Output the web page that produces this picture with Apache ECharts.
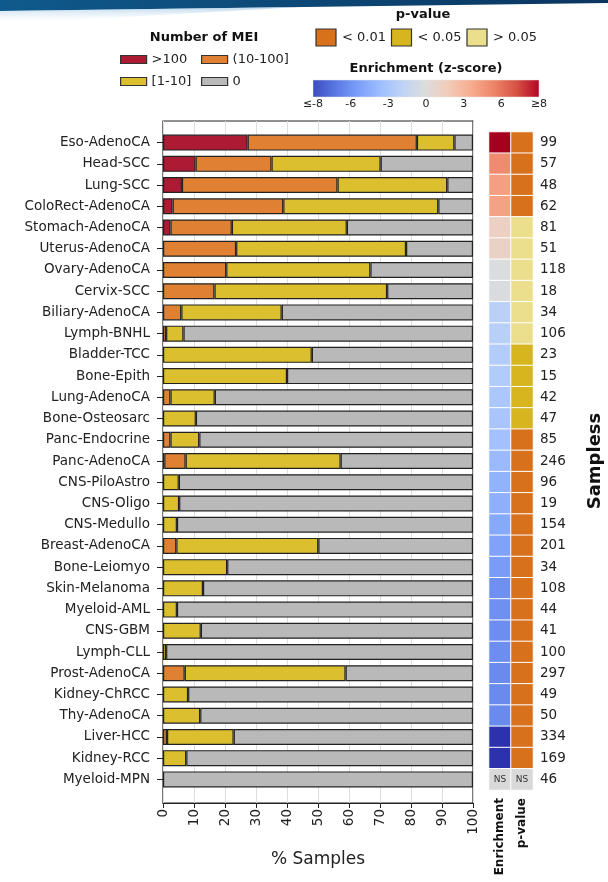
<!DOCTYPE html>
<html>
<head>
<meta charset="utf-8">
<script src="https://cdn.jsdelivr.net/npm/echarts@6/dist/echarts.min.js"></script>
<style>
  html, body { margin: 0; padding: 0; background: #fff; }
  #chart { width: 608px; height: 882px; }
</style>
</head>
<body>
<div id="chart"></div>
<script>
// 肿瘤类型
const categories = [
  'Eso-AdenoCA', 'Head-SCC', 'Lung-SCC', 'ColoRect-AdenoCA', 'Stomach-AdenoCA',
  'Uterus-AdenoCA', 'Ovary-AdenoCA', 'Cervix-SCC', 'Biliary-AdenoCA', 'Lymph-BNHL',
  'Bladder-TCC', 'Bone-Epith', 'Lung-AdenoCA', 'Bone-Osteosarc', 'Panc-Endocrine',
  'Panc-AdenoCA', 'CNS-PiloAstro', 'CNS-Oligo', 'CNS-Medullo', 'Breast-AdenoCA',
  'Bone-Leiomyo', 'Skin-Melanoma', 'Myeloid-AML', 'CNS-GBM', 'Lymph-CLL',
  'Prost-AdenoCA', 'Kidney-ChRCC', 'Thy-AdenoCA', 'Liver-HCC', 'Kidney-RCC',
  'Myeloid-MPN'
];

// % samples per MEI bin (>100, (10-100], [1-10]); the rest is 0
const over100 = [27.3, 10.5, 6.1, 3.1, 2.4, 0, 0, 0, 0, 0, 0, 0, 0, 0, 0, 0.4, 0, 0, 0, 0, 0, 0, 0, 0, 0, 0, 0, 0, 0, 0, 0];
const from10to100 = [54.6, 24.5, 50.2, 35.7, 19.8, 23.6, 20.4, 16.6, 5.9, 1.0, 0, 0, 2.4, 0, 2.4, 6.9, 0, 0, 0, 4.3, 0, 0, 0, 0, 0, 7.0, 0, 0, 1.3, 0, 0];
const from1to10 = [12.1, 35.2, 35.4, 50.0, 37.1, 54.8, 46.5, 55.7, 32.4, 5.6, 48.0, 40.0, 14.3, 10.6, 9.3, 50.0, 5.1, 5.2, 4.5, 45.8, 20.7, 12.9, 4.5, 12.2, 1.0, 51.9, 8.1, 12.0, 21.5, 7.5, 0];
const zeroMei = categories.map((_, i) => +(100 - over100[i] - from10to100[i] - from1to10[i]).toFixed(1));

// enrichment z-score (±9 = beyond the ≤-8 / ≥8 ends), p-value class 0:<0.01 1:<0.05 2:>0.05
// Myeloid-MPN is NS
const zScores = [9, 4.5, 3.7, 3.6, 1.1, 1.0, -0.1, -0.2, -1.9, -2.0, -2.2, -2.3, -2.6, -2.7, -3.0, -3.4, -3.8, -4.0, -4.3, -4.6, -4.9, -5.4, -5.4, -5.5, -5.5, -5.6, -5.6, -5.6, -9, -9];
const pClass = [0, 0, 0, 0, 2, 2, 2, 2, 2, 2, 1, 1, 1, 1, 0, 0, 0, 0, 0, 0, 0, 0, 0, 0, 0, 0, 0, 0, 0, 0];
const sampleCounts = [99, 57, 48, 62, 81, 51, 118, 18, 34, 106, 23, 15, 42, 47, 85, 246, 96, 19, 154, 201, 34, 108, 44, 41, 100, 297, 49, 50, 334, 169, 46];

const cbarLabels = ['≤-8', '-6', '-3', '0', '3', '6', '≥8'];
const pLabels = ['< 0.01', '< 0.05', '> 0.05'];

const meiColors = ['#ad1a33', '#df8032', '#dbbf2f', '#b9b9b9'];
const pColors = ['#d8711c', '#d6b51e', '#ebde8c'];
const coolwarm = ['#3b4cc0', '#5977e3', '#7b9ff9', '#9ebeff', '#c0d4f5', '#dddcdc',
  '#f2cbb7', '#f7ac8e', '#ee8468', '#d65244', '#b40426'];

function hex(c) { return [1, 3, 5].map(k => parseInt(c.substr(k, 2), 16)); }
function cw(t) {
  const f = Math.max(0, Math.min(1, t)) * 10;
  const i = Math.min(9, Math.floor(f));
  const a = hex(coolwarm[i]), b = hex(coolwarm[i + 1]);
  const u = f - i;
  return 'rgb(' + a.map((v, k) => Math.round(v + (b[k] - v) * u)).join(',') + ')';
}
// color ramp from -9 to 9 in steps of 1
const enrichRamp = ['#2c32ad'];
for (let z = -8; z <= 8; z++) enrichRamp.push(cw((z + 8) / 16));
enrichRamp.push('#a6001f');

const font = 'DejaVu Sans';
const chart = echarts.init(document.getElementById('chart'));

const blank = v => (v ? v : '-');
const barBase = {
  type: 'bar', stack: 'mei', xAxisIndex: 1, yAxisIndex: 1, barWidth: 16, z: 3,
  emphasis: { disabled: true }
};
const meiNames = ['>100', '(10-100]', '[1-10]', '0'];
const meiData = [over100, from10to100, from1to10, zeroMei];

const legendPos = [[120, 53], [201, 53], [120, 75], [201, 75]];

const graphics = [
  // 顶部横幅
  { type: 'polygon', shape: { points: [[0, 0], [608, 0], [608, 3], [0, 11]] },
    style: { fill: new echarts.graphic.LinearGradient(0, 0, 1, 0, [
      { offset: 0, color: '#0f5a8c' }, { offset: 1, color: '#0b355f' }]) } },
  { type: 'polygon', shape: { points: [[0, 11], [300, 7], [0, 24]] },
    style: { fill: new echarts.graphic.LinearGradient(0, 0, 0, 1, [
      { offset: 0, color: 'rgba(160,200,230,0.7)' }, { offset: 1, color: 'rgba(255,255,255,0)' }]) } },
  { type: 'text', x: 204, y: 38, style: { text: 'Number of MEI', font: 'bold 13px ' + font, fill: '#111', align: 'center', verticalAlign: 'middle' } },
  { type: 'text', x: 423, y: 15, style: { text: 'p-value', font: 'bold 13px ' + font, fill: '#111', align: 'center', verticalAlign: 'middle' } },
  { type: 'text', x: 426, y: 69, style: { text: 'Enrichment (z-score)', font: 'bold 13px ' + font, fill: '#111', align: 'center', verticalAlign: 'middle' } },
  { type: 'rect', shape: { x: 313, y: 80, width: 226, height: 17 },
    style: { fill: new echarts.graphic.LinearGradient(0, 0, 1, 0,
      coolwarm.map((c, i) => ({ offset: i / 10, color: c }))), stroke: '#e6e6e6', lineWidth: 0.5 } },
  { type: 'text', x: 595, y: 461, rotation: Math.PI / 2,
    style: { text: 'Sampless', font: 'bold 18px ' + font, fill: '#111', align: 'center', verticalAlign: 'middle' } }
];
cbarLabels.forEach((t, i) => {
  graphics.push({ type: 'text', x: 313 + i * 226 / 6, y: 104,
    style: { text: t, font: '11px ' + font, fill: '#222', align: 'center', verticalAlign: 'middle' } });
});
pLabels.forEach((t, i) => {
  const x0 = 316 + i * 75.5;
  graphics.push({ type: 'rect', shape: { x: x0, y: 29, width: 20, height: 17 },
    style: { fill: pColors[i], stroke: '#333', lineWidth: 1.2 } });
  graphics.push({ type: 'text', x: x0 + 26, y: 38,
    style: { text: t, font: '13px ' + font, fill: '#222', verticalAlign: 'middle' } });
});

const option = {
  animation: false,
  textStyle: { fontFamily: font },
  legend: meiNames.map((n, i) => ({
    data: [n], left: legendPos[i][0], top: legendPos[i][1], padding: 0,
    icon: 'rect', itemWidth: 26, itemHeight: 8, selectedMode: false,
    itemStyle: { borderColor: '#333', borderWidth: 1.2 },
    textStyle: { fontSize: 13, color: '#222', fontFamily: font }
  })),
  grid: [
    { left: 163, top: 121, width: 310, height: 682, show: true, borderColor: '#222', borderWidth: 1.2, backgroundColor: 'transparent' },
    { left: 163, top: 132, width: 310, height: 658 },
    { left: 489, top: 132, width: 44, height: 658 }
  ],
  xAxis: [
    { gridIndex: 0, type: 'value', min: 0, max: 100, interval: 10,
      axisLine: { show: true, lineStyle: { color: '#222', width: 1.2 } },
      axisTick: { show: true, length: 5, lineStyle: { color: '#222' } },
      axisLabel: { rotate: 90, fontSize: 13.5, color: '#222', margin: 6 },
      splitLine: { show: true, lineStyle: { color: '#dedede' } },
      name: '% Samples', nameLocation: 'middle', nameGap: 48,
      nameTextStyle: { fontSize: 17, color: '#222' } },
    { gridIndex: 1, type: 'value', min: 0, max: 100, show: false },
    { gridIndex: 2, type: 'category', data: ['Enrichment', 'p-value'],
      axisLine: { show: false }, axisTick: { show: false },
      axisLabel: { rotate: 90, fontSize: 12, fontWeight: 'bold', color: '#111', margin: 8 } }
  ],
  yAxis: [
    { gridIndex: 0, type: 'value', min: 0, max: 1, show: false },
    { gridIndex: 1, type: 'category', data: categories, inverse: true,
      axisLine: { show: false },
      axisTick: { show: true, length: 6, alignWithLabel: true, lineStyle: { color: '#222' } },
      axisLabel: { fontSize: 13.5, color: '#222', margin: 13 } },
    { gridIndex: 2, type: 'category', data: categories, inverse: true, position: 'right',
      axisLine: { show: false }, axisTick: { show: false },
      axisLabel: { fontSize: 13.5, color: '#222', margin: 7, formatter: (v, i) => String(sampleCounts[i]) } }
  ],
  visualMap: [
    { type: 'continuous', seriesIndex: 4, dimension: 2, min: -9, max: 9, show: false,
      inRange: { color: enrichRamp } },
    { type: 'piecewise', seriesIndex: 5, dimension: 2, show: false,
      pieces: pColors.map((c, i) => ({ value: i, color: c })) }
  ],
  series: meiNames.map((n, k) => Object.assign({}, barBase, {
    name: n,
    data: meiData[k].map(blank),
    itemStyle: { color: meiColors[k], borderColor: '#222', borderWidth: 1.2 }
  })).concat([
    { type: 'heatmap', xAxisIndex: 2, yAxisIndex: 2,
      data: zScores.map((z, i) => [0, i, z]),
      itemStyle: { borderColor: '#fff', borderWidth: 1 }, emphasis: { disabled: true } },
    { type: 'heatmap', xAxisIndex: 2, yAxisIndex: 2,
      data: pClass.map((p, i) => [1, i, p]),
      itemStyle: { borderColor: '#fff', borderWidth: 1 }, emphasis: { disabled: true } },
    { type: 'heatmap', xAxisIndex: 2, yAxisIndex: 2,
      data: [[0, 30, 0], [1, 30, 0]],
      itemStyle: { color: '#d9d9d9', borderColor: '#fff', borderWidth: 1 },
      label: { show: true, formatter: 'NS', fontSize: 9, color: '#333' },
      emphasis: { disabled: true } }
  ]),
  graphic: graphics
};

chart.setOption(option);
</script>
</body>
</html>
